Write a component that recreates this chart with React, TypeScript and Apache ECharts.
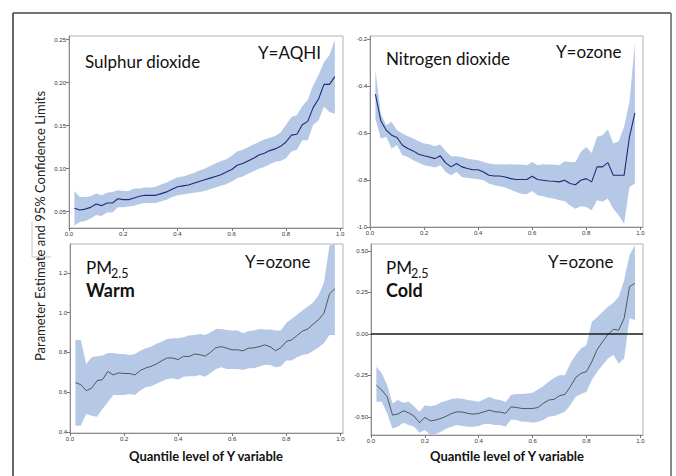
import React, { useEffect, useRef } from "react";
import * as echarts from "echarts";

const QUANTILES = [
  0.02, 0.04, 0.06, 0.08, 0.1, 0.12, 0.14, 0.16, 0.18, 0.2,
  0.22, 0.24, 0.26, 0.28, 0.3, 0.32, 0.34, 0.36, 0.38, 0.4,
  0.42, 0.44, 0.46, 0.48, 0.5, 0.52, 0.54, 0.56, 0.58, 0.6,
  0.62, 0.64, 0.66, 0.68, 0.7, 0.72, 0.74, 0.76, 0.78, 0.8,
  0.82, 0.84, 0.86, 0.88, 0.9, 0.92, 0.94, 0.96, 0.98,
];
const X_TICKS = [0, 0.2, 0.4, 0.6, 0.8, 1.0];

// Panel 1: Sulphur dioxide, Y=AQHI
const SO2_EST = [
  0.054, 0.052, 0.053, 0.055, 0.059, 0.057, 0.06, 0.06, 0.065, 0.064,
  0.064, 0.066, 0.068, 0.069, 0.069, 0.069, 0.071, 0.073, 0.076, 0.079,
  0.08, 0.081, 0.083, 0.085, 0.087, 0.089, 0.091, 0.093, 0.096, 0.099,
  0.104, 0.106, 0.109, 0.112, 0.116, 0.118, 0.121, 0.123, 0.126, 0.131,
  0.139, 0.14, 0.151, 0.155, 0.171, 0.181, 0.198, 0.198, 0.207,
];
const SO2_UPPER = [
  0.074, 0.067, 0.067, 0.068, 0.071, 0.069, 0.072, 0.073, 0.075, 0.074,
  0.074, 0.077, 0.077, 0.078, 0.078, 0.079, 0.082, 0.084, 0.087, 0.09,
  0.091, 0.093, 0.095, 0.098, 0.1, 0.103, 0.106, 0.109, 0.111, 0.115,
  0.12, 0.122, 0.125, 0.128, 0.131, 0.134, 0.136, 0.138, 0.142, 0.151,
  0.16, 0.162, 0.173, 0.18, 0.197, 0.209, 0.224, 0.232, 0.25,
];
const SO2_LOWER = [
  0.034, 0.038, 0.039, 0.042, 0.046, 0.045, 0.049, 0.049, 0.055, 0.055,
  0.056, 0.057, 0.059, 0.06, 0.06, 0.06, 0.062, 0.064, 0.067, 0.069,
  0.07, 0.071, 0.072, 0.073, 0.074, 0.076, 0.078, 0.08, 0.082, 0.085,
  0.089, 0.091, 0.094, 0.097, 0.1, 0.102, 0.105, 0.108, 0.109, 0.112,
  0.12, 0.122, 0.133, 0.133, 0.151, 0.156, 0.172, 0.166, 0.164,
];
const SO2_Y_TICKS = [0.05, 0.1, 0.15, 0.2, 0.25];

// Panel 2: Nitrogen dioxide, Y=ozone
const NO2_EST = [
  -0.434, -0.548, -0.588, -0.609, -0.619, -0.652, -0.666, -0.676, -0.69, -0.697,
  -0.702, -0.709, -0.697, -0.727, -0.744, -0.73, -0.744, -0.751, -0.756, -0.756,
  -0.766, -0.78, -0.783, -0.783, -0.787, -0.794, -0.798, -0.798, -0.798, -0.784,
  -0.798, -0.801, -0.804, -0.805, -0.808, -0.801, -0.815, -0.82, -0.801, -0.794,
  -0.808, -0.744, -0.744, -0.726, -0.78, -0.78, -0.78, -0.616, -0.514,
];
const NO2_UPPER = [
  -0.332, -0.517, -0.567, -0.552, -0.588, -0.602, -0.614, -0.623, -0.635, -0.645,
  -0.648, -0.656, -0.649, -0.676, -0.699, -0.699, -0.702, -0.709, -0.713, -0.716,
  -0.723, -0.73, -0.733, -0.733, -0.734, -0.733, -0.734, -0.734, -0.737, -0.723,
  -0.737, -0.733, -0.734, -0.734, -0.737, -0.72, -0.723, -0.723, -0.68, -0.659,
  -0.685, -0.616, -0.609, -0.585, -0.645, -0.635, -0.574, -0.467, -0.216,
];
const NO2_LOWER = [
  -0.538, -0.623, -0.616, -0.666, -0.652, -0.695, -0.702, -0.716, -0.727, -0.737,
  -0.741, -0.747, -0.737, -0.766, -0.78, -0.766, -0.787, -0.791, -0.794, -0.797,
  -0.801, -0.815, -0.822, -0.827, -0.832, -0.841, -0.851, -0.858, -0.861, -0.847,
  -0.865, -0.869, -0.875, -0.879, -0.886, -0.889, -0.908, -0.922, -0.912, -0.915,
  -0.929, -0.886, -0.893, -0.879, -0.922, -0.95, -0.986, -0.83, -0.815,
];
const NO2_Y_TICKS = [-1.0, -0.8, -0.6, -0.4, -0.2];

// Panel 3: PM2.5 Warm, Y=ozone
const WARM_EST = [
  0.648, 0.638, 0.608, 0.62, 0.658, 0.663, 0.704, 0.687, 0.697, 0.694,
  0.694, 0.687, 0.709, 0.722, 0.73, 0.742, 0.759, 0.772, 0.772, 0.764,
  0.781, 0.779, 0.792, 0.789, 0.781, 0.801, 0.824, 0.829, 0.821, 0.813,
  0.813, 0.808, 0.821, 0.823, 0.829, 0.838, 0.829, 0.809, 0.823, 0.855,
  0.863, 0.885, 0.907, 0.918, 0.943, 0.965, 0.999, 1.094, 1.12,
];
const WARM_UPPER = [
  0.863, 0.863, 0.742, 0.776, 0.781, 0.784, 0.797, 0.797, 0.792, 0.792,
  0.787, 0.792, 0.809, 0.821, 0.829, 0.843, 0.855, 0.868, 0.871, 0.871,
  0.876, 0.885, 0.888, 0.893, 0.888, 0.901, 0.918, 0.918, 0.913, 0.91,
  0.91, 0.896, 0.907, 0.91, 0.918, 0.915, 0.915, 0.91, 0.91, 0.948,
  0.969, 0.99, 1.011, 1.031, 1.052, 1.089, 1.153, 1.338, 1.346,
];
const WARM_LOWER = [
  0.432, 0.432, 0.491, 0.482, 0.477, 0.516, 0.549, 0.586, 0.586, 0.586,
  0.591, 0.586, 0.608, 0.625, 0.63, 0.642, 0.655, 0.667, 0.67, 0.663,
  0.678, 0.68, 0.68, 0.687, 0.678, 0.697, 0.717, 0.725, 0.717, 0.717,
  0.717, 0.712, 0.72, 0.72, 0.729, 0.737, 0.737, 0.725, 0.729, 0.759,
  0.759, 0.776, 0.787, 0.792, 0.809, 0.826, 0.848, 0.888, 0.888,
];
const WARM_Y_TICKS = [0.4, 0.6, 0.8, 1.0, 1.2];

// Panel 4: PM2.5 Cold, Y=ozone
const COLD_EST = [
  -0.309, -0.339, -0.379, -0.49, -0.484, -0.464, -0.476, -0.496, -0.536, -0.504,
  -0.524, -0.52, -0.51, -0.496, -0.48, -0.47, -0.472, -0.48, -0.484, -0.48,
  -0.47, -0.46, -0.47, -0.472, -0.48, -0.44, -0.444, -0.45, -0.45, -0.45,
  -0.444, -0.419, -0.399, -0.395, -0.373, -0.365, -0.319, -0.263, -0.238, -0.228,
  -0.168, -0.094, -0.047, -0.003, 0.027, 0.023, 0.094, 0.285, 0.305,
];
const COLD_UPPER = [
  -0.198, -0.238, -0.309, -0.42, -0.399, -0.415, -0.409, -0.436, -0.47, -0.43,
  -0.436, -0.43, -0.413, -0.403, -0.393, -0.389, -0.391, -0.399, -0.403, -0.409,
  -0.395, -0.379, -0.395, -0.399, -0.411, -0.369, -0.363, -0.363, -0.359, -0.355,
  -0.335, -0.315, -0.289, -0.265, -0.249, -0.249, -0.178, -0.128, -0.088, -0.067,
  0.073, 0.1, 0.134, 0.164, 0.188, 0.224, 0.325, 0.476, 0.536,
];
const COLD_LOWER = [
  -0.409, -0.409, -0.48, -0.571, -0.56, -0.536, -0.55, -0.56, -0.597, -0.58,
  -0.611, -0.605, -0.59, -0.571, -0.56, -0.55, -0.556, -0.56, -0.56, -0.556,
  -0.544, -0.544, -0.55, -0.55, -0.56, -0.516, -0.52, -0.53, -0.53, -0.536,
  -0.53, -0.52, -0.5, -0.496, -0.484, -0.47, -0.43, -0.379, -0.363, -0.349,
  -0.279, -0.228, -0.188, -0.148, -0.128, -0.178, -0.148, 0.094, 0.084,
];
const COLD_Y_TICKS = [-0.5, -0.25, 0, 0.25, 0.5];

const BAND_COLOR = "#b5c9e7";
const FONT = "Lato";

export default function App() {
  const ref = useRef<HTMLDivElement>(null);

  useEffect(() => {
    if (!ref.current) return;
    const chart = echarts.init(ref.current, null, { renderer: "svg" });

    const panels = [
      { grid: { left: 69, top: 36, width: 274, height: 192 }, est: SO2_EST, up: SO2_UPPER, lo: SO2_LOWER, yTicks: SO2_Y_TICKS, yMin: 0.031, yMax: 0.2543, dec: 2, lineColor: "#1d2a7a", lineWidth: 1.1, zero: false },
      { grid: { left: 370, top: 36, width: 273, height: 191 }, est: NO2_EST, up: NO2_UPPER, lo: NO2_LOWER, yTicks: NO2_Y_TICKS, yMin: -1.0, yMax: -0.187, dec: 1, lineColor: "#1d2a7a", lineWidth: 1.1, zero: false },
      { grid: { left: 70, top: 244, width: 273, height: 189 }, est: WARM_EST, up: WARM_UPPER, lo: WARM_LOWER, yTicks: WARM_Y_TICKS, yMin: 0.395, yMax: 1.345, dec: 1, lineColor: "#3a3a3a", lineWidth: 0.8, zero: false },
      { grid: { left: 371, top: 244, width: 272, height: 191 }, est: COLD_EST, up: COLD_UPPER, lo: COLD_LOWER, yTicks: COLD_Y_TICKS, yMin: -0.61, yMax: 0.542, dec: 2, lineColor: "#3a3a3a", lineWidth: 0.8, zero: true },
    ];

    const tickLabel = { fontSize: 6, color: "#333", fontFamily: "Liberation Sans" };

    const grids = panels.map((p) => ({
      ...p.grid,
      show: true,
      borderColor: "#b4b4b4",
      borderWidth: 1,
      backgroundColor: "transparent",
      containLabel: false,
    }));

    const xAxes = panels.map((p, i) => ({
      gridIndex: i,
      type: "value",
      min: 0,
      max: 1.01,
      axisLine: { show: true, onZero: false, lineStyle: { color: "#8c8c8c", width: 1 } },
      axisTick: { show: true, length: 3, customValues: X_TICKS, lineStyle: { color: "#777" } },
      axisLabel: { ...tickLabel, margin: 3, customValues: X_TICKS, formatter: (v: number) => v.toFixed(1) },
      splitLine: { show: false },
    }));

    const yAxes = panels.map((p, i) => ({
      gridIndex: i,
      type: "value",
      min: p.yMin,
      max: p.yMax,
      axisLine: { show: true, onZero: false, lineStyle: { color: "#8c8c8c", width: 1 } },
      axisTick: { show: true, length: 3, customValues: p.yTicks, lineStyle: { color: "#777" } },
      axisLabel: { ...tickLabel, margin: 3, customValues: p.yTicks, formatter: (v: number) => v.toFixed(p.dec) },
      splitLine: { show: false },
    }));

    const series: any[] = [];
    panels.forEach((p, i) => {
      const bandData = QUANTILES.map((q, k) => [q, p.lo[k], p.up[k]]);
      series.push({
        type: "custom",
        xAxisIndex: i,
        yAxisIndex: i,
        data: bandData,
        encode: { x: 0, y: [1, 2] },
        clip: true,
        silent: true,
        z: 1,
        renderItem: (params: any, api: any) => {
          if (params.dataIndex !== 0) return null;
          const upperPts = bandData.map((d) => api.coord([d[0], d[2]]));
          const lowerPts = bandData.map((d) => api.coord([d[0], d[1]])).reverse();
          return {
            type: "polygon",
            shape: { points: upperPts.concat(lowerPts) },
            style: { fill: BAND_COLOR, stroke: "none" },
          };
        },
      });
      series.push({
        type: "line",
        xAxisIndex: i,
        yAxisIndex: i,
        data: QUANTILES.map((q, k) => [q, p.est[k]]),
        symbol: "none",
        lineStyle: { color: p.lineColor, width: p.lineWidth },
        silent: true,
        z: 3,
        markLine: p.zero
          ? {
              silent: true,
              symbol: "none",
              label: { show: false },
              lineStyle: { color: "#1a1a1a", width: 1.5, type: "solid" },
              data: [{ yAxis: 0 }],
            }
          : undefined,
      });
    });

    const txt = (text: string, x: number, y: number, size: number, weight = "normal", align = "left") => ({
      type: "text",
      x,
      y,
      silent: true,
      z: 10,
      style: {
        text,
        fontSize: size,
        fontFamily: FONT,
        fontWeight: weight,
        fill: "#111",
        textAlign: align,
        align,
        textVerticalAlign: "middle",
        verticalAlign: "middle",
      },
    });

    const graphic: any[] = [
      { type: "line", silent: true, shape: { x1: 13, y1: 13, x2: 13, y2: 476 }, style: { stroke: "#666", lineWidth: 2 } },
      { type: "line", silent: true, shape: { x1: 13, y1: 13, x2: 671, y2: 13 }, style: { stroke: "#444", lineWidth: 1.5 } },
      { type: "line", silent: true, shape: { x1: 671, y1: 13, x2: 671, y2: 476 }, style: { stroke: "#888", lineWidth: 2 } },
      { type: "polyline", silent: true, shape: { points: [[32, 222], [32, 257], [51, 257]] }, style: { stroke: "#c4c4c4", lineWidth: 1, fill: "none" } },
      txt("Sulphur dioxide", 85, 61, 17),
      txt("Y=AQHI", 258, 52, 17),
      txt("Nitrogen dioxide", 386, 58, 17),
      txt("Y=ozone", 556, 51, 17),
      txt("PM", 86, 267, 17),
      txt("2.5", 111, 273, 12.5),
      txt("Warm", 86, 290, 18, "bold"),
      txt("Y=ozone", 245, 261, 17),
      txt("PM", 386, 267, 17),
      txt("2.5", 411, 273, 12.5),
      txt("Cold", 386, 290, 18, "bold"),
      txt("Y=ozone", 548, 261, 17),
      txt("Quantile level of Y variable", 206, 456, 13, "bold", "center"),
      txt("Quantile level of Y variable", 507, 456, 13, "bold", "center"),
      {
        type: "text",
        x: 40,
        y: 226,
        rotation: Math.PI / 2,
        silent: true,
        style: {
          text: "Parameter Estimate and 95% Confidence Limits",
          fontSize: 13,
          fontFamily: FONT,
          fill: "#222",
          textAlign: "center",
          align: "center",
          textVerticalAlign: "middle",
          verticalAlign: "middle",
        },
      },
    ];

    chart.setOption({
      animation: false,
      backgroundColor: "#fff",
      grid: grids,
      xAxis: xAxes,
      yAxis: yAxes,
      series,
      graphic,
    });

    return () => chart.dispose();
  }, []);

  return (
    <div
      ref={ref}
      style={{ position: "fixed", left: 0, top: 0, width: 676, height: 476, background: "#fff" }}
    />
  );
}
